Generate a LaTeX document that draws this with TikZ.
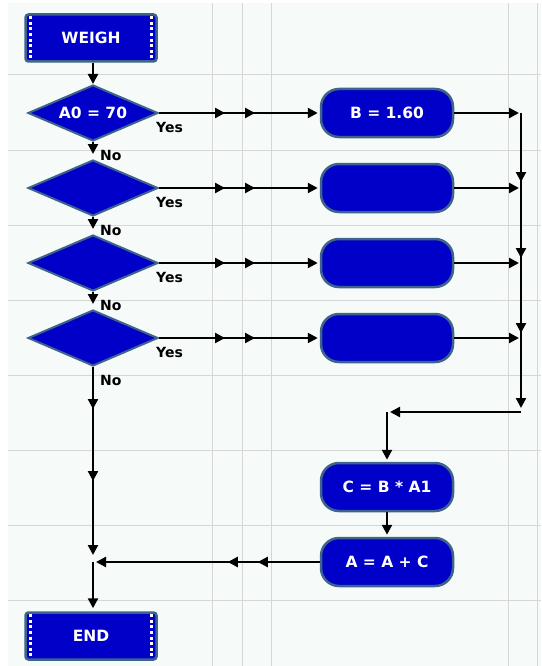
\documentclass[tikz,border=0pt]{standalone}
\usepackage{fontspec}
\setmainfont{DejaVu Sans}
\usepackage{tikz}
\usetikzlibrary{shapes.geometric, arrows.meta, positioning, calc, decorations.markings}
\definecolor{myblue}{RGB}{0,0,200}
\definecolor{myedge}{RGB}{62,100,140}
\definecolor{mydark}{RGB}{0,0,0}
\definecolor{mybg}{RGB}{246,250,248}
\definecolor{mygrid}{RGB}{214,214,214}
\newcommand{\boxfont}{\fontsize{15.5}{18}\selectfont\bfseries}
\newcommand{\lblfont}{\fontsize{14}{16}\selectfont\bfseries}
\tikzset{
  >={Triangle[length=10pt,width=10pt]},
  termbox/.style={rectangle, draw=myedge, fill=myblue,
    minimum width=131pt, minimum height=47pt, inner sep=0pt,
    text=white, font=\boxfont, rounded corners=3pt, line width=2.5pt},
  decbox/.style={diamond, draw=myedge, fill=myblue, aspect=2.3,
    minimum width=130pt, minimum height=56pt, inner sep=0pt,
    text=white, font=\boxfont, line width=2pt},
  procbox/.style={rectangle, draw=myedge, fill=myblue,
    minimum width=132pt, minimum height=48pt, inner sep=0pt,
    text=white, font=\boxfont, rounded corners=18pt, line width=2.5pt},
  filmstrip/.style={draw=white, line width=3pt, dash pattern=on 3pt off 2.6pt},
  flow/.style={->, line width=2.2pt, color=mydark},
  midtip/.style={postaction={decorate, decoration={markings,
    mark=at position #1 with {\arrow{>}}}}},
  lbl/.style={font=\lblfont, inner sep=0pt, text=mydark},
  gridline/.style={draw=mygrid, line width=1pt}
}

\begin{document}
\begin{tikzpicture}[x=1pt, y=-1pt]
  \useasboundingbox (0,0) rectangle (541,666);
  % Background grid
  \fill[white] (0,0) rectangle (541,666);
  \fill[mybg] (8,3) rectangle (541,666);
  \foreach \gy in {75,150,...,600}
    \draw[gridline] (8,\gy) -- (541,\gy);
  \foreach \gx in {212,242,271,508,537}
    \draw[gridline] (\gx,3) -- (\gx,666);

  % Terminals
  \node[termbox] (weigh) at (91,38) {WEIGH};
  \node[termbox] (end) at (91,636) {END};
  \foreach \t in {weigh, end} {
    \draw[filmstrip] ([xshift=6pt,yshift=-3pt]\t.north west) -- ([xshift=6pt,yshift=3pt]\t.south west);
    \draw[filmstrip] ([xshift=-6pt,yshift=-3pt]\t.north east) -- ([xshift=-6pt,yshift=3pt]\t.south east);
  }

  % Decisions
  \node[decbox] (d1) at (93,113) {A0 = 70};
  \node[decbox] (d2) at (93,188) {};
  \node[decbox] (d3) at (93,263) {};
  \node[decbox] (d4) at (93,338) {};

  % Assignments
  \node[procbox] (b1) at (387,113) {B = 1.60};
  \node[procbox] (b2) at (387,188) {};
  \node[procbox] (b3) at (387,263) {};
  \node[procbox] (b4) at (387,338) {};
  \node[procbox] (calc) at (387,487) {C = B * A1};
  \node[procbox] (add) at (387,562) {A = A + C};

  % Junctions
  \coordinate (j1) at (521,113);
  \coordinate (j2) at (521,188);
  \coordinate (j3) at (521,263);
  \coordinate (j4) at (521,338);
  \coordinate (jc) at (521,412);
  \coordinate (jt) at (387,412);
  \coordinate (mg) at (93,562);

  % Main column
  \draw[flow] (weigh.south -| d1) -- (d1.north);
  \draw[flow, shorten >=5pt] (d1.south) -- (d2.north);
  \draw[flow, shorten >=5pt] (d2.south) -- (d3.north);
  \draw[flow, shorten >=5pt] (d3.south) -- (d4.north);
  \draw[flow, shorten >=7pt, midtip=42pt, midtip=114pt] (d4.south) -- (mg);
  \draw[flow, shorten >=3pt] (mg) -- (end.north -| mg);

  % Yes branches
  \foreach \i in {1,...,4} {
    \draw[flow, shorten >=2pt, midtip=66pt, midtip=96pt] (d\i.east) -- (b\i.west);
    \draw[flow, shorten >=2pt] (b\i.east) -- (j\i);
    \node[lbl, anchor=north west] (yes\i) at ([xshift=-3pt,yshift=-9pt]d\i.east) {Yes};
    \node[lbl, anchor=north west] (no\i) at ([xshift=7pt,yshift=-8pt]d\i.south) {No};
  }

  % Merge and return
  \draw[flow, shorten >=4pt, midtip=69pt, midtip=145pt, midtip=220pt] (j1) -- (jc);
  \draw[flow, shorten >=3pt] (jc) -- (jt);
  \draw[flow, shorten >=2pt] (jt) -- (calc.north);
  \draw[flow, shorten >=2pt] (calc.south) -- (add.north);
  \draw[flow, shorten >=3pt, midtip=62pt, midtip=92pt] (add.west) -- (mg);
\end{tikzpicture}
\end{document}
